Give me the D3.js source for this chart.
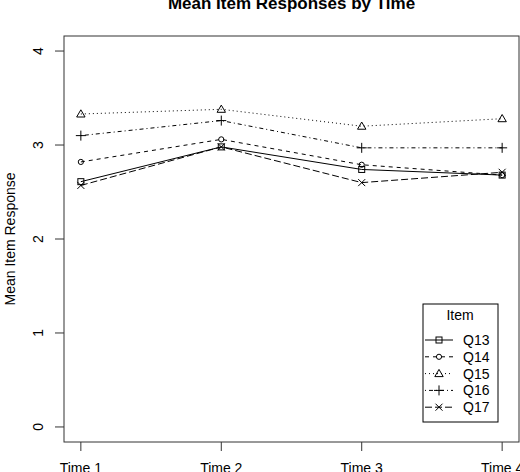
<!DOCTYPE html>
<html>
<head>
<meta charset="utf-8">
<script src="https://cdn.jsdelivr.net/npm/d3@7"></script>
<style>
  body { margin: 0; background: #fff; }
  text { font-family: "Liberation Sans", Arial, sans-serif; fill: #000; }
</style>
</head>
<body>
<svg id="chart" width="520" height="472"></svg>
<script>
// chart values
var times = ["Time 1", "Time 2", "Time 3", "Time 4"];
var items = ["Q13", "Q14", "Q15", "Q16", "Q17"];
var q13 = [2.61, 2.98, 2.74, 2.68];
var q14 = [2.82, 3.06, 2.79, 2.68];
var q15 = [3.33, 3.38, 3.20, 3.28];
var q16 = [3.10, 3.26, 2.97, 2.97];
var q17 = [2.57, 2.98, 2.60, 2.71];
var yTicks = [0, 1, 2, 3, 4];

var series = [q13, q14, q15, q16, q17];
var dashes = [null, "4,4", "1,3", "1,3,4,3", "7,3"];
var shapes = ["square", "circle", "triangle", "plus", "cross"];

var svg = d3.select("#chart");

var pLeft = 64, pRight = 519, pTop = 36, pBottom = 442;

// R style: 4% padding on each side
var xScale = d3.scaleLinear()
    .domain([0.88, 4.12])
    .range([pLeft, pRight]);

var yScale = d3.scaleLinear()
    .domain([-0.16, 4.16])
    .range([pBottom, pTop]);

function marker(g, shape, cx, cy) {
    var m = g.append("g").attr("transform", "translate(" + cx + "," + cy + ")")
        .attr("fill", "none").attr("stroke", "#000").attr("stroke-width", 1);
    if (shape == "square") {
        m.append("rect").attr("x", -3).attr("y", -3).attr("width", 6).attr("height", 6);
    } else if (shape == "circle") {
        m.append("circle").attr("r", 2.6);
    } else if (shape == "triangle") {
        m.append("path").attr("d", "M0,-4.2L4.2,3L-4.2,3Z");
    } else if (shape == "plus") {
        m.append("path").attr("d", "M-5,0H5M0,-5V5");
    } else {
        m.append("path").attr("d", "M-3.5,-3.5L3.5,3.5M-3.5,3.5L3.5,-3.5");
    }
}

// title
svg.append("text")
    .attr("x", (pLeft + pRight) / 2)
    .attr("y", 9)
    .attr("text-anchor", "middle")
    .attr("font-size", 17)
    .attr("font-weight", "bold")
    .text("Mean Item Responses by Time");

// plot box
svg.append("rect")
    .attr("x", pLeft).attr("y", pTop)
    .attr("width", pRight - pLeft).attr("height", pBottom - pTop)
    .attr("fill", "none").attr("stroke", "#333");

// y axis
var yAxis = svg.append("g").attr("class", "y axis");
yAxis.selectAll(".tick")
    .data(yTicks)
    .enter().append("line")
    .attr("x1", pLeft - 9).attr("x2", pLeft)
    .attr("y1", function(d){ return yScale(d); })
    .attr("y2", function(d){ return yScale(d); })
    .attr("stroke", "#333");
yAxis.selectAll(".lab")
    .data(yTicks)
    .enter().append("text")
    .attr("transform", function(d){ return "translate(43," + yScale(d) + ") rotate(-90)"; })
    .attr("text-anchor", "middle")
    .attr("font-size", 14)
    .text(function(d){ return d; });

svg.append("text")
    .attr("transform", "translate(15," + ((pTop + pBottom) / 2) + ") rotate(-90)")
    .attr("text-anchor", "middle")
    .attr("font-size", 14)
    .text("Mean Item Response");

// x axis
var xAxis = svg.append("g").attr("class", "x axis");
xAxis.selectAll(".tick")
    .data(times)
    .enter().append("line")
    .attr("x1", function(d, i){ return xScale(i + 1); })
    .attr("x2", function(d, i){ return xScale(i + 1); })
    .attr("y1", pBottom).attr("y2", pBottom + 9)
    .attr("stroke", "#333");
xAxis.selectAll(".lab")
    .data(times)
    .enter().append("text")
    .attr("x", function(d, i){ return xScale(i + 1); })
    .attr("y", 473)
    .attr("text-anchor", "middle")
    .attr("font-size", 14)
    .text(function(d){ return d; });

// lines
var line = d3.line()
    .x(function(d, i){ return xScale(i + 1); })
    .y(function(d){ return yScale(d); });

series.forEach(function(s, k) {
    svg.append("path")
        .datum(s)
        .attr("d", line)
        .attr("fill", "none")
        .attr("stroke", "#000")
        .attr("stroke-width", 1)
        .attr("stroke-dasharray", dashes[k]);
    var g = svg.append("g");
    s.forEach(function(v, i) {
        marker(g, shapes[k], xScale(i + 1), yScale(v));
    });
});

// legend
var lg = svg.append("g").attr("transform", "translate(423,304)");
lg.append("rect")
    .attr("width", 75).attr("height", 118)
    .attr("fill", "#fff").attr("stroke", "#000");
lg.append("text")
    .attr("x", 37).attr("y", 16)
    .attr("text-anchor", "middle")
    .attr("font-size", 14)
    .text("Item");
items.forEach(function(name, k) {
    var yy = 36 + k * 16.8;
    lg.append("line")
        .attr("x1", 2).attr("x2", 30)
        .attr("y1", yy).attr("y2", yy)
        .attr("stroke", "#000")
        .attr("stroke-dasharray", dashes[k]);
    marker(lg, shapes[k], 16, yy);
    lg.append("text")
        .attr("x", 40).attr("y", yy + 5)
        .attr("font-size", 14)
        .text(name);
});
</script>
</body>
</html>
